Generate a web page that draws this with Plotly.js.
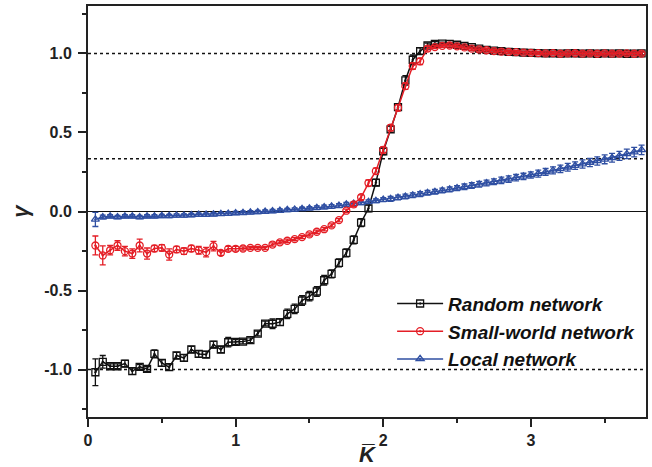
<!DOCTYPE html>
<html>
<head>
<meta charset="utf-8">
<script src="https://cdn.plot.ly/plotly-3.0.1.min.js"></script>
<style>html,body{margin:0;padding:0;background:#fff;}#chart{width:652px;height:467px;}</style>
</head>
<body>
<div id="chart"></div>
<script>
// ---- data ----
const kValues = [0.05,0.10,0.15,0.20,0.25,0.30,0.35,0.40,0.45,0.50,
  0.55,0.60,0.65,0.70,0.75,0.80,0.85,0.90,0.95,1.00,
  1.05,1.10,1.15,1.20,1.25,1.30,1.35,1.40,1.45,1.50,
  1.55,1.60,1.65,1.70,1.75,1.80,1.85,1.90,1.95,2.00,
  2.05,2.10,2.15,2.20,2.25,2.30,2.35,2.40,2.45,2.50,
  2.55,2.60,2.65,2.70,2.75,2.80,2.85,2.90,2.95,3.00,
  3.05,3.10,3.15,3.20,3.25,3.30,3.35,3.40,3.45,3.50,
  3.55,3.60,3.65,3.70,3.75];

const randomGamma = [-1.017,-0.951,-0.979,-0.979,-0.962,-1.010,-0.983,-0.996,-0.901,-0.958,
  -0.985,-0.911,-0.926,-0.873,-0.901,-0.905,-0.842,-0.873,-0.827,-0.825,
  -0.823,-0.814,-0.772,-0.709,-0.710,-0.700,-0.648,-0.616,-0.563,-0.536,
  -0.506,-0.435,-0.395,-0.325,-0.262,-0.180,-0.070,0.020,0.183,0.380,
  0.520,0.660,0.830,0.960,1.015,1.050,1.060,1.062,1.060,1.055,
  1.048,1.040,1.030,1.022,1.018,1.015,1.010,1.008,1.005,1.003,
  1.002,1.000,1.001,0.999,1.000,1.001,0.999,1.000,0.998,1.000,
  0.999,1.000,0.998,0.999,1.000];
const randomErr = [0.085,0.040,0.015,0.015,0.020,0.020,0.015,0.015,0.025,0.020,
  0.020,0.020,0.020,0.020,0.020,0.020,0.020,0.020,0.030,0.015,
  0.015,0.015,0.015,0.015,0.030,0.020,0.030,0.030,0.030,0.030,
  0.030,0.030,0.025,0.025,0.025,0.025,0.025,0.020,0.020,0.020,
  0.020,0.020,0.030,0.030,0.020,0.015,0.015,0.010,0.010,0.010,
  0.010,0.010,0.010,0.010,0.010,0.010,0.010,0.010,0.010,0.010,
  0.010,0.010,0.010,0.010,0.010,0.010,0.010,0.010,0.010,0.010,
  0.010,0.010,0.010,0.010,0.010];

const smallWorldGamma = [-0.215,-0.278,-0.245,-0.215,-0.251,-0.266,-0.215,-0.266,-0.234,-0.230,
  -0.272,-0.240,-0.251,-0.234,-0.245,-0.257,-0.219,-0.262,-0.236,-0.236,
  -0.234,-0.230,-0.230,-0.230,-0.209,-0.195,-0.185,-0.175,-0.162,-0.145,
  -0.128,-0.112,-0.088,-0.055,0.005,0.045,0.090,0.180,0.255,0.390,
  0.530,0.656,0.793,0.920,0.950,1.030,1.040,1.048,1.050,1.045,
  1.038,1.030,1.025,1.020,1.015,1.012,1.010,1.008,1.005,1.004,
  1.002,1.000,1.002,0.998,1.000,1.001,0.999,1.000,0.998,1.000,
  0.999,0.999,1.000,0.998,0.999];
const smallWorldErr = [0.060,0.060,0.030,0.030,0.030,0.030,0.040,0.035,0.020,0.020,
  0.035,0.020,0.020,0.020,0.025,0.030,0.030,0.015,0.015,0.015,
  0.010,0.010,0.010,0.010,0.010,0.010,0.010,0.010,0.010,0.010,
  0.010,0.010,0.010,0.010,0.010,0.015,0.015,0.020,0.020,0.020,
  0.020,0.020,0.020,0.020,0.020,0.015,0.010,0.010,0.010,0.010,
  0.010,0.010,0.010,0.010,0.010,0.010,0.010,0.010,0.010,0.010,
  0.010,0.010,0.010,0.010,0.010,0.010,0.010,0.010,0.010,0.010,
  0.010,0.010,0.010,0.010,0.010];

const localGamma = [-0.050,-0.035,-0.030,-0.035,-0.030,-0.030,-0.035,-0.030,-0.030,-0.028,
  -0.028,-0.025,-0.025,-0.022,-0.020,-0.020,-0.018,-0.015,-0.013,-0.010,
  -0.008,-0.005,-0.003,0.000,0.003,0.006,0.010,0.013,0.017,0.020,
  0.024,0.028,0.032,0.037,0.045,0.050,0.055,0.062,0.068,0.075,
  0.080,0.088,0.095,0.103,0.110,0.118,0.125,0.133,0.140,0.148,
  0.156,0.164,0.172,0.180,0.188,0.197,0.205,0.214,0.222,0.231,
  0.240,0.250,0.260,0.270,0.280,0.290,0.300,0.310,0.320,0.330,
  0.340,0.352,0.364,0.376,0.390];
const localErr = [0.045,0.012,0.010,0.010,0.010,0.010,0.010,0.010,0.010,0.010,
  0.010,0.010,0.010,0.010,0.010,0.010,0.010,0.010,0.010,0.010,
  0.010,0.010,0.010,0.010,0.010,0.010,0.010,0.010,0.010,0.010,
  0.012,0.012,0.012,0.012,0.012,0.012,0.012,0.012,0.012,0.012,
  0.015,0.015,0.015,0.015,0.015,0.015,0.015,0.015,0.015,0.015,
  0.018,0.018,0.018,0.018,0.018,0.020,0.020,0.020,0.020,0.020,
  0.022,0.022,0.022,0.024,0.024,0.024,0.026,0.026,0.026,0.028,
  0.028,0.028,0.030,0.030,0.030];

const seriesNames = ['Random network','Small-world network','Local network'];
const referenceLevels = [1.0, 1/3, -1.0];
const yTickVals = [-1.0, -0.5, 0.0, 0.5, 1.0];
const yTickText = ['-1.0', '-0.5', '0.0', '0.5', '1.0'];
const xTickVals = [0, 1, 2, 3];
const xTickText = ['0', '1', '2', '3'];

// ---- styling ----
const BLACK = '#111111', RED = '#e41e26', BLUE = '#2f4fa2';
const FONT = 'Liberation Sans, Arial, sans-serif';

function series(name, y, err, color, symbol, rank) {
  return {
    type: 'scatter', mode: 'lines+markers', name: name,
    x: kValues, y: y, legendrank: rank,
    line: {color: color, width: 1.5},
    marker: {symbol: symbol, size: 7, color: color, line: {color: color, width: 1.3}},
    error_y: {type: 'data', array: err, visible: true, color: color, thickness: 1.3, width: 3}
  };
}

const traces = [
  series(seriesNames[0], randomGamma, randomErr, BLACK, 'square-open-dot', 1),
  series(seriesNames[2], localGamma, localErr, BLUE, 'triangle-up-open-dot', 3),
  series(seriesNames[1], smallWorldGamma, smallWorldErr, RED, 'circle-open-dot', 2)
];

const tickFont = {family: FONT, size: 16, color: '#222', weight: 'bold'};
const xr = [0, 3.78], yr = [-1.3, 1.3];

const layout = {
  width: 652, height: 467,
  margin: {l: 88, r: 6, t: 6, b: 50},
  paper_bgcolor: '#fff', plot_bgcolor: '#fff',
  showlegend: true,
  legend: {
    x: 0.545, y: 0.322, xanchor: 'left', yanchor: 'top',
    bgcolor: 'rgba(0,0,0,0)', borderwidth: 0,
    font: {family: FONT, size: 19, color: '#111', style: 'italic', weight: 'bold'},
    itemwidth: 46, tracegroupgap: 0
  },
  xaxis: {
    range: xr, tickmode: 'array', tickvals: xTickVals, ticktext: xTickText,
    showgrid: false, zeroline: false,
    showline: true, linecolor: '#222', linewidth: 2, mirror: true,
    ticks: 'outside', ticklen: 8, tickwidth: 2, tickcolor: '#222',
    minor: {dtick: 0.5, tick0: 0, ticks: 'outside', ticklen: 4, tickwidth: 2, tickcolor: '#222', showgrid: false},
    tickfont: tickFont,
    title: {text: '<i>K\u0305</i>', font: {family: FONT, size: 22, color: '#222', weight: 'bold'}, standoff: 2}
  },
  xaxis2: {
    overlaying: 'x', side: 'top', anchor: 'y', range: xr, dtick: 1, tick0: 0,
    showgrid: false, zeroline: false, showline: false, showticklabels: false,
    ticks: 'inside', ticklen: 8, tickwidth: 2, tickcolor: '#222',
    minor: {dtick: 0.5, ticks: 'inside', ticklen: 5, tickwidth: 2, tickcolor: '#222', showgrid: false}
  },
  yaxis: {
    range: yr, tickmode: 'array', tickvals: yTickVals, ticktext: yTickText, showgrid: false,
    zeroline: true, zerolinecolor: '#111', zerolinewidth: 1.5,
    showline: true, linecolor: '#222', linewidth: 2, mirror: true,
    ticks: 'outside', ticklen: 8, tickwidth: 2, tickcolor: '#222',
    minor: {dtick: 0.25, tick0: 0, ticks: 'outside', ticklen: 4, tickwidth: 2, tickcolor: '#222', showgrid: false},
    tickfont: tickFont, ticklabelstandoff: 3,
    title: {text: '<i>\u03b3</i>', font: {family: FONT, size: 22, color: '#222', weight: 'bold'}, standoff: 10}
  },
  yaxis2: {
    overlaying: 'y', side: 'right', anchor: 'x', range: yr, dtick: 0.5, tick0: 0,
    showgrid: false, zeroline: false, showline: false, showticklabels: false,
    ticks: 'inside', ticklen: 8, tickwidth: 2, tickcolor: '#222',
    minor: {dtick: 0.25, ticks: 'inside', ticklen: 4, tickwidth: 2, tickcolor: '#222', showgrid: false}
  },
  shapes: referenceLevels.map(v => ({
    type: 'line', xref: 'paper', x0: 0, x1: 1, yref: 'y', y0: v, y1: v,
    line: {color: '#111', width: 1.5, dash: 'dot'}, layer: 'below'
  }))
};

Plotly.newPlot('chart', traces, layout, {displayModeBar: false, staticPlot: true});
</script>
</body>
</html>
